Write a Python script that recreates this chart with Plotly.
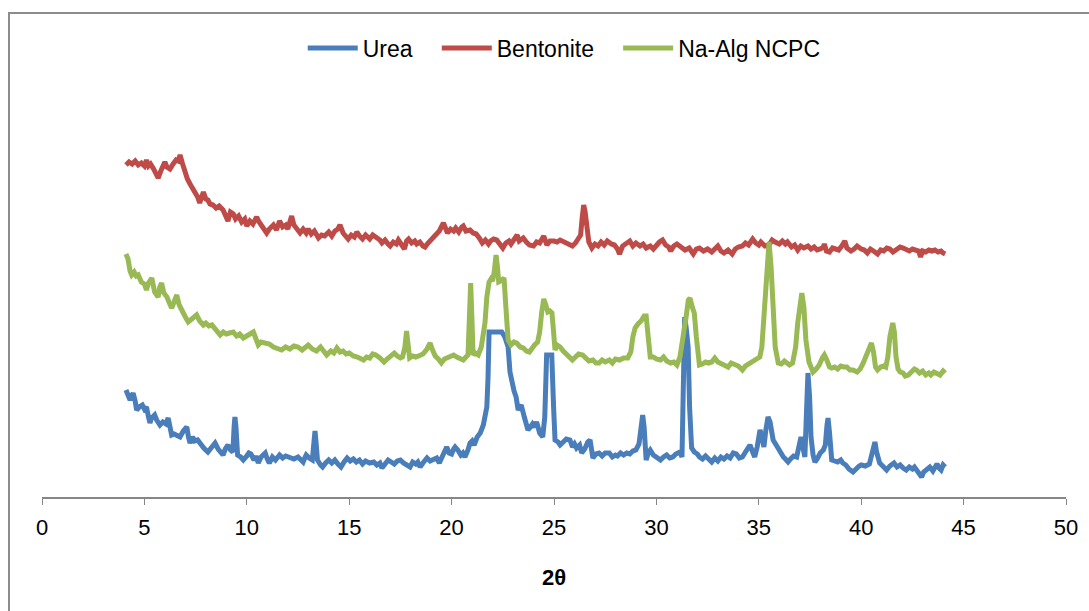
import plotly.graph_objects as go

# ---- data (2theta, relative intensity) ----
urea_x = [4.1, 4.2, 4.3, 4.38, 4.45, 4.55, 4.62, 4.75, 4.9, 5.0, 5.1, 5.2, 5.27, 5.35, 5.5, 5.6, 5.76, 5.9, 6.05, 6.16,
          6.25, 6.33, 6.45, 6.6, 6.74, 6.9, 7.07, 7.15, 7.23, 7.35, 7.45, 7.6, 7.75, 7.9, 8.1, 8.25, 8.45, 8.6, 8.75, 8.84,
          8.95, 9.08, 9.2, 9.32, 9.38, 9.42, 9.47, 9.55, 9.7, 9.83, 10.0, 10.1, 10.2, 10.35, 10.45, 10.56, 10.7, 10.9, 11.0,
          11.1, 11.25, 11.4, 11.6, 11.75, 11.9, 12.1, 12.3, 12.5, 12.75, 12.85, 12.9, 13.05, 13.2, 13.28, 13.33, 13.38,
          13.45, 13.6, 13.7, 13.85, 14.0, 14.15, 14.3, 14.45, 14.6, 14.75, 14.9, 15.05, 15.2, 15.35, 15.5, 15.65, 15.8,
          16.0, 16.2, 16.35, 16.5, 16.6, 16.75, 16.9, 17.05, 17.2, 17.35, 17.5, 17.65, 17.8, 17.97, 18.1, 18.25, 18.35,
          18.46, 18.6, 18.7, 18.8, 18.95, 19.1, 19.27, 19.4, 19.55, 19.65, 19.76, 19.88, 20.0, 20.1, 20.17, 20.3, 20.45,
          20.55, 20.65, 20.8, 20.9, 21.0, 21.1, 21.25, 21.4, 21.55, 21.65, 21.72, 21.78, 21.83, 22.1, 22.45, 22.6, 22.76,
          22.85, 22.93, 23.05, 23.15, 23.25, 23.33, 23.4, 23.55, 23.65, 23.73, 23.85, 23.95, 24.05, 24.15, 24.22, 24.3,
          24.45, 24.55, 24.64, 24.89, 24.98, 25.05, 25.2, 25.3, 25.45, 25.6, 25.78, 25.9, 26.0, 26.1, 26.25, 26.35, 26.5,
          26.65, 26.76, 26.85, 26.9, 27.05, 27.2, 27.35, 27.5, 27.7, 27.85, 28.0, 28.1, 28.25, 28.4, 28.55, 28.7, 28.85,
          29.0, 29.15, 29.25, 29.33, 29.4, 29.5, 29.6, 29.7, 29.85, 30.0, 30.2, 30.35, 30.5, 30.65, 30.8, 30.95, 31.15,
          31.25, 31.32, 31.38, 31.45, 31.55, 31.62, 31.72, 31.85, 32.0, 32.1, 32.25, 32.4, 32.55, 32.7, 32.85, 33.0,
          33.15, 33.3, 33.45, 33.6, 33.75, 33.9, 34.05, 34.2, 34.35, 34.45, 34.57, 34.7, 34.8, 34.92, 35.0, 35.06, 35.15,
          35.25, 35.35, 35.45, 35.55, 35.7, 35.85, 36.04, 36.2, 36.3, 36.43, 36.55, 36.7, 36.85, 36.98, 37.06, 37.15,
          37.25, 37.32, 37.4, 37.48, 37.55, 37.65, 37.74, 37.85, 38.0, 38.15, 38.25, 38.33, 38.38, 38.45, 38.56, 38.7,
          38.85, 39.0, 39.1, 39.25, 39.4, 39.6, 39.75, 39.9, 40.0, 40.2, 40.4, 40.52, 40.6, 40.67, 40.75, 40.9, 41.05,
          41.24, 41.4, 41.6, 41.75, 41.9, 42.05, 42.2, 42.35, 42.5, 42.6, 42.75, 42.85, 42.95, 43.05, 43.2, 43.35, 43.5,
          43.6, 43.7, 43.8, 43.9, 44.0, 44.1]
urea_y = [107, 103, 97, 101, 104, 96, 87, 90, 92, 88, 90, 80, 74, 79, 82, 77, 72, 75, 73, 79,
          70, 62, 63, 62, 60, 66, 70, 60, 54, 60, 56, 57, 52, 49, 45, 49, 54, 48, 44, 42,
          48, 52, 47, 45, 70, 80, 70, 42, 40, 37, 41, 44, 43, 37, 41, 34, 40, 44, 38,
          34, 40, 37, 42, 39, 41, 40, 38, 40, 35, 40, 42, 39, 37, 55, 66, 55,
          37, 32, 30, 34, 37, 34, 37, 33, 30, 35, 39, 36, 38, 35, 37, 33, 36,
          34, 35, 32, 34, 29, 34, 37, 35, 33, 36, 37, 34, 32, 30, 35, 33, 35,
          30, 34, 37, 39, 36, 38, 39, 34, 40, 45, 50, 44, 43, 48, 50, 47, 42,
          44, 40, 47, 54, 56, 52, 60, 64, 72, 80, 90, 120, 165, 165, 165, 160, 150,
          125, 114, 106, 100, 87, 90, 92, 80, 70, 67, 70, 73, 70, 75, 70, 64,
          60, 80, 142, 142, 90, 57, 55, 52, 55, 58, 57, 50, 53, 49, 52, 44, 48,
          55, 57, 47, 39, 43, 44, 41, 44, 44, 40, 42, 41, 44, 42, 44, 43, 46,
          47, 53, 72, 82, 70, 37, 44, 47, 42, 40, 37, 40, 42, 39, 40, 43, 45,
          40, 100, 180, 170, 150, 90, 49, 45, 43, 40, 38, 41, 37, 35, 39, 36,
          40, 38, 41, 39, 44, 43, 39, 40, 45, 48, 52, 45, 40, 50, 60, 67, 60,
          50, 68, 80, 75, 57, 52, 44, 40, 38, 35, 38, 41, 40, 52, 60, 50,
          40, 80, 124, 100, 60, 42, 35, 38, 44, 47, 52, 72, 79, 65, 37, 36,
          35, 37, 34, 32, 28, 25, 29, 31, 32, 31, 33, 42, 52, 55, 45, 34, 31,
          27, 31, 34, 30, 32, 29, 27, 30, 28, 30, 26, 23, 20, 25, 28, 30, 26,
          31, 33, 29, 27, 32, 30]

bent_x = [4.1, 4.25, 4.4, 4.55, 4.7, 4.85, 5.0, 5.1, 5.2, 5.3, 5.45, 5.6, 5.67, 5.8, 5.9, 6.0, 6.1, 6.25, 6.4, 6.55,
          6.65, 6.74, 6.85, 6.98, 7.1, 7.23, 7.35, 7.5, 7.6, 7.7, 7.8, 7.88, 8.0, 8.1, 8.2, 8.35, 8.5, 8.65, 8.84, 8.95,
          9.08, 9.2, 9.34, 9.45, 9.6, 9.75, 9.9, 10.0, 10.15, 10.3, 10.48, 10.6, 10.75, 10.97, 11.1, 11.3, 11.45, 11.6,
          11.75, 11.9, 12.0, 12.19, 12.3, 12.45, 12.6, 12.75, 12.9, 13.0, 13.15, 13.3, 13.5, 13.65, 13.8, 14.0, 14.15,
          14.3, 14.45, 14.55, 14.7, 14.95, 15.1, 15.25, 15.37, 15.5, 15.65, 15.8, 16.0, 16.15, 16.34, 16.5, 16.6, 16.75,
          16.9, 17.0, 17.15, 17.3, 17.4, 17.55, 17.7, 17.8, 17.9, 18.05, 18.2, 18.3, 18.45, 18.6, 18.7, 18.85, 19.0,
          19.1, 19.25, 19.4, 19.6, 19.7, 19.8, 19.95, 20.1, 20.2, 20.35, 20.5, 20.57, 20.7, 20.9, 21.05, 21.2, 21.35,
          21.5, 21.65, 21.8, 21.9, 22.05, 22.2, 22.35, 22.5, 22.65, 22.8, 22.9, 23.05, 23.2, 23.3, 23.5, 23.65, 23.8,
          24.0, 24.15, 24.3, 24.5, 24.65, 24.8, 25.0, 25.15, 25.3, 25.5, 25.7, 25.9, 26.05, 26.2, 26.3, 26.38, 26.45,
          26.52, 26.6, 26.7, 26.85, 27.0, 27.15, 27.3, 27.45, 27.6, 27.8, 27.95, 28.1, 28.2, 28.35, 28.5, 28.7, 28.85,
          29.0, 29.2, 29.35, 29.5, 29.7, 29.85, 30.0, 30.15, 30.3, 30.45, 30.6, 30.7, 30.85, 31.0, 31.2, 31.4, 31.6,
          31.8, 31.95, 32.1, 32.3, 32.5, 32.7, 32.9, 33.0, 33.15, 33.3, 33.5, 33.7, 33.85, 34.0, 34.2, 34.35, 34.5,
          34.7, 34.85, 35.0, 35.1, 35.3, 35.5, 35.65, 35.8, 36.0, 36.15, 36.3, 36.4, 36.6, 36.75, 36.9, 37.05, 37.2,
          37.4, 37.55, 37.7, 37.85, 38.0, 38.15, 38.2, 38.3, 38.45, 38.6, 38.75, 38.9, 39.05, 39.2, 39.3, 39.5, 39.65,
          39.8, 40.0, 40.15, 40.3, 40.45, 40.6, 40.8, 40.95, 41.1, 41.25, 41.4, 41.55, 41.7, 41.9, 42.05, 42.2, 42.35,
          42.5, 42.65, 42.8, 42.9, 43.0, 43.15, 43.3, 43.45, 43.6, 43.75, 43.9, 44.0, 44.1]
bent_y = [332, 335, 333, 336, 332, 334, 331, 337, 331, 333, 328, 322, 319, 326, 330, 335, 330, 328, 333, 337,
          336, 342, 334, 325, 318, 313, 309, 304, 300, 294, 300, 305, 298, 297, 293, 292, 289, 291, 287, 282,
          276, 285, 283, 278, 281, 275, 278, 271, 276, 273, 280, 275, 270, 264, 268, 272, 267, 276,
          270, 272, 268, 281, 272, 267, 264, 268, 264, 268, 263, 266, 259, 262, 261, 265, 261,
          266, 268, 272, 264, 258, 262, 260, 265, 261, 258, 262, 258, 262, 260, 257, 254, 257,
          253, 251, 255, 253, 257, 252, 248, 256, 258, 254, 256, 253, 255, 251, 250, 254, 257,
          259, 262, 266, 274, 267, 264, 268, 266, 269, 265, 270, 271, 266, 267, 264, 263, 259,
          254, 257, 253, 256, 258, 257, 253, 249, 254, 256, 253, 258, 262, 256, 259, 255, 252,
          251, 255, 254, 261, 252, 256, 256, 255, 257, 255, 254, 251, 254, 258, 262, 280, 292,
          285, 268, 255, 249, 253, 251, 255, 252, 256, 253, 252, 248, 243, 251, 253, 256, 251,
          254, 251, 253, 249, 251, 248, 252, 255, 257, 252, 250, 246, 251, 253, 250, 247, 249,
          243, 248, 249, 246, 248, 245, 249, 251, 246, 244, 247, 243, 248, 250, 251, 254, 252,
          258, 254, 252, 255, 251, 252, 257, 255, 253, 256, 253, 255, 250, 252, 247, 251, 249,
          251, 248, 250, 247, 248, 250, 253, 246, 245, 249, 248, 247, 251, 256, 249, 246, 248,
          251, 248, 247, 244, 248, 246, 243, 247, 246, 249, 248, 245, 247, 250, 249, 248, 246,
          248, 247, 246, 240, 246, 245, 247, 246, 247, 245, 246, 244, 243]

ncpc_x = [4.1, 4.2, 4.3, 4.38, 4.5, 4.6, 4.7, 4.85, 5.0, 5.1, 5.2, 5.36, 5.5, 5.6, 5.67, 5.75, 5.84, 5.95, 6.1, 6.2,
          6.33, 6.45, 6.58, 6.7, 6.85, 7.0, 7.14, 7.3, 7.45, 7.55, 7.7, 7.88, 8.0, 8.15, 8.3, 8.45, 8.6, 8.7, 8.85, 9.0,
          9.15, 9.34, 9.5, 9.65, 9.83, 10.0, 10.15, 10.32, 10.45, 10.56, 10.7, 10.9, 11.1, 11.3, 11.5, 11.7, 11.9, 12.1,
          12.3, 12.5, 12.7, 12.85, 13.0, 13.2, 13.4, 13.6, 13.75, 13.9, 14.1, 14.25, 14.4, 14.55, 14.7, 14.85, 15.0,
          15.2, 15.4, 15.55, 15.7, 15.85, 16.0, 16.15, 16.3, 16.5, 16.7, 16.85, 17.0, 17.2, 17.35, 17.5, 17.6, 17.72,
          17.8, 17.88, 17.95, 18.1, 18.25, 18.4, 18.6, 18.8, 18.95, 19.05, 19.2, 19.35, 19.5, 19.65, 19.8, 19.95, 20.1,
          20.25, 20.4, 20.57, 20.7, 20.8, 20.87, 20.93, 20.99, 21.05, 21.15, 21.3, 21.45, 21.55, 21.63, 21.72, 21.83,
          21.92, 22.0, 22.08, 22.17, 22.24, 22.3, 22.4, 22.56, 22.65, 22.76, 22.9, 23.05, 23.18, 23.35, 23.5, 23.65,
          23.8, 23.95, 24.05, 24.2, 24.3, 24.4, 24.5, 24.6, 24.7, 24.8, 24.9, 24.98, 25.05, 25.15, 25.3, 25.45, 25.6,
          25.75, 25.9, 26.05, 26.2, 26.4, 26.55, 26.7, 26.9, 27.05, 27.2, 27.35, 27.5, 27.7, 27.85, 28.0, 28.2, 28.4,
          28.6, 28.75, 28.85, 28.96, 29.1, 29.25, 29.4, 29.5, 29.6, 29.7, 29.85, 30.0, 30.2, 30.35, 30.5, 30.7, 30.85,
          31.0, 31.15, 31.3, 31.45, 31.56, 31.64, 31.75, 31.85, 31.95, 32.03, 32.1, 32.25, 32.4, 32.55, 32.7, 32.85,
          33.0, 33.2, 33.35, 33.5, 33.65, 33.8, 34.0, 34.1, 34.2, 34.35, 34.5, 34.6, 34.75, 34.9, 35.05, 35.15, 35.3,
          35.4, 35.5, 35.6, 35.7, 35.8, 35.95, 36.1, 36.25, 36.4, 36.5, 36.65, 36.8, 36.9, 37.0, 37.1, 37.2, 37.3,
          37.45, 37.65, 37.8, 37.95, 38.1, 38.2, 38.3, 38.45, 38.56, 38.7, 38.85, 39.0, 39.15, 39.3, 39.45, 39.6, 39.8,
          39.95, 40.1, 40.26, 40.4, 40.5, 40.6, 40.7, 40.8, 40.95, 41.1, 41.2, 41.3, 41.4, 41.54, 41.62, 41.7, 41.8,
          41.9, 42.05, 42.15, 42.3, 42.45, 42.6, 42.7, 42.85, 43.0, 43.15, 43.3, 43.4, 43.55, 43.7, 43.85, 44.0, 44.1]
ncpc_y = [243, 238, 226, 222, 225, 221, 222, 215, 213, 207, 214, 219, 205, 203, 200, 210, 214, 204, 200, 195,
          189, 195, 202, 192, 185, 180, 175, 178, 180, 182, 176, 172, 174, 171, 172, 168, 166, 162, 165, 163,
          164, 165, 161, 163, 159, 161, 163, 165, 158, 152, 155, 154, 153, 150, 148, 147, 150, 148,
          151, 150, 147, 150, 152, 148, 146, 150, 145, 142, 146, 144, 149, 145, 146, 143, 144,
          141, 140, 139, 137, 140, 139, 143, 142, 139, 135, 138, 140, 144, 141, 139, 140, 150,
          166, 150, 139, 141, 140, 141, 143, 148, 154, 148, 141, 138, 134, 138, 139, 141, 142,
          140, 139, 137, 140, 142, 180, 214, 180, 142, 144, 142, 150, 160, 174, 200, 215,
          218, 216, 225, 242, 230, 215, 216, 219, 190, 157, 152, 155, 154, 150, 149, 146,
          145, 150, 152, 155, 165, 185, 198, 192, 185, 186, 184, 165, 147, 152, 150, 146, 143,
          140, 137, 140, 143, 142, 138, 136, 137, 134, 134, 137, 135, 137, 134, 138, 137, 139,
          139, 145, 160, 169, 173, 176, 181, 181, 160, 140, 140, 138, 137, 140, 136, 134, 135,
          132, 140, 157, 180, 197, 199, 190, 184, 160, 140, 132, 133, 135, 134, 135, 139,
          135, 133, 132, 130, 134, 133, 131, 129, 127, 131, 133, 133, 135, 138, 140, 150, 190,
          225, 255, 230, 190, 150, 134, 133, 136, 134, 132, 134, 150, 174, 195, 204, 190, 157,
          135, 125, 128, 132, 139, 142, 138, 130, 129, 130, 128, 131, 130, 130, 127, 127, 125,
          128, 134, 142, 152, 154, 145, 130, 127, 130, 131, 130, 140, 160, 174, 165, 140, 128,
          125, 124, 121, 122, 125, 128, 127, 124, 126, 122, 124, 122, 125, 124, 122, 126, 124]

x_ticks = [0, 5, 10, 15, 20, 25, 30, 35, 40, 45, 50]

NB = "\u00a0"
series = [
    ("Urea", NB * 3, urea_x, urea_y, "#4A7EBB"),
    ("Bentonite", NB * 3, bent_x, bent_y, "#BE4B48"),
    ("Na-Alg NCPC", "", ncpc_x, ncpc_y, "#98B954"),
]

FONT = "Liberation Sans Narrow, Arial Narrow, Liberation Sans, Arial, sans-serif"

fig = go.Figure()
for name, pad, xs, ys, col in series:
    fig.add_trace(go.Scatter(x=xs, y=ys, mode="lines", name=name + pad,
                             line=dict(color=col, width=5)))

fig.update_layout(
    width=1089, height=611,
    margin=dict(l=42, r=23, t=97, b=114),
    paper_bgcolor="white", plot_bgcolor="white",
    font=dict(family=FONT, color="black", size=22),
    legend=dict(orientation="h", x=0.51, y=1.1225, xanchor="center", yanchor="middle",
                font=dict(size=23, family=FONT), bgcolor="rgba(0,0,0,0)", itemwidth=50),
    showlegend=True,
)
fig.update_xaxes(range=[0, 50], tickvals=x_ticks, ticktext=[str(v) for v in x_ticks],
                 showgrid=False, zeroline=False, showline=True, linecolor="#868686", linewidth=2,
                 ticks="outside", ticklen=6, tickcolor="#868686", tickwidth=1,
                 tickfont=dict(size=22, family=FONT), ticklabelstandoff=4,
                 title=dict(text="<b>2θ</b>", font=dict(size=22, family=FONT), standoff=30))
fig.update_yaxes(range=[0, 400], visible=False, showgrid=False, zeroline=False)

# outer chart border
fig.add_shape(type="rect", xref="paper", yref="paper",
              x0=(9 - 42) / 1024, x1=(1095 - 42) / 1024, y0=(497 - 620) / 400, y1=(497 - 13) / 400,
              line=dict(color="#8c8c8c", width=2), fillcolor="rgba(0,0,0,0)", layer="below")

fig.write_html("out.html")
